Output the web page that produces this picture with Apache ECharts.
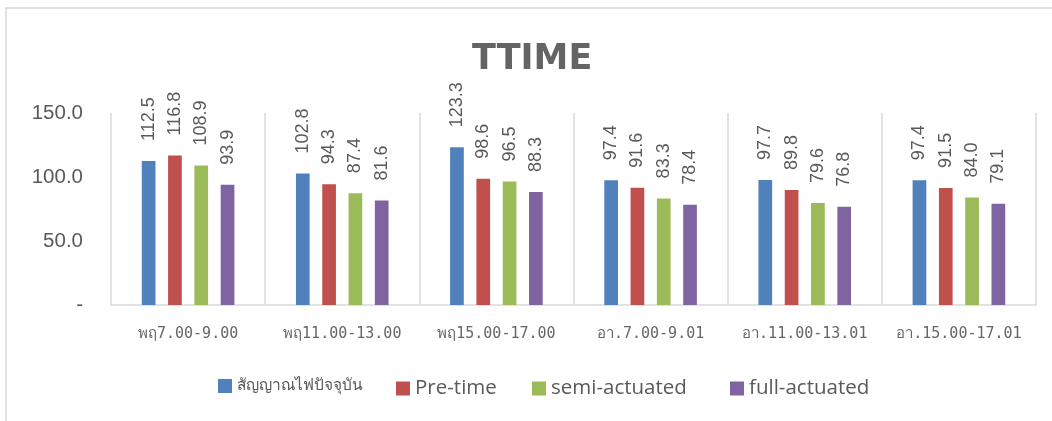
<!DOCTYPE html>
<html>
<head>
<meta charset="utf-8">
<style>
  html, body { margin: 0; padding: 0; background: #ffffff; }
  #chart { width: 1052px; height: 421px; }
</style>
<script src="https://cdn.jsdelivr.net/npm/echarts@6/dist/echarts.min.js"></script>
</head>
<body>
<div id="chart"></div>
<script>
// Time periods on the category axis
const categories = ['พฤ7.00-9.00', 'พฤ11.00-13.00', 'พฤ15.00-17.00', 'อา.7.00-9.01', 'อา.11.00-13.01', 'อา.15.00-17.01'];

// Travel time per signal control scheme
const seriesNames = ['สัญญาณไฟปัจจุบัน', 'Pre-time', 'semi-actuated', 'full-actuated'];
const currentSignal = [112.5, 102.8, 123.3, 97.4, 97.7, 97.4];
const preTime = [116.8, 94.3, 98.6, 91.6, 89.8, 91.5];
const semiActuated = [108.9, 87.4, 96.5, 83.3, 79.6, 84.0];
const fullActuated = [93.9, 81.6, 88.3, 78.4, 76.8, 79.1];

// Value axis ticks
const yTicks = [0, 50, 100, 150];

const colors = ['#4F81BD', '#C0504D', '#9BBB59', '#8064A2'];
const textColor = '#595959';
const lineColor = '#d9d9d9';
const baseFont = '"Liberation Sans", "Noto Sans", sans-serif';
const legendFont = '"Open Sans", "Liberation Sans", sans-serif';

// Legend entries sit in fixed columns along the bottom
const legendLeft = [213, 391, 527, 725];

// Thai script names get a smaller face in the legend
const isThai = s => /[\u0E00-\u0E7F]/.test(s);

const chart = echarts.init(document.getElementById('chart'), null, { renderer: 'canvas' });

function makeSeries(name, values, color) {
  return {
    name: name,
    type: 'bar',
    data: values,
    barWidth: 13.7,
    barGap: '92%',
    itemStyle: { color: color },
    label: {
      show: true,
      position: 'top',
      rotate: 90,
      align: 'left',
      verticalAlign: 'middle',
      distance: 20,
      color: textColor,
      fontSize: 18,
      fontFamily: baseFont,
      formatter: p => p.value.toFixed(1)
    },
    emphasis: { disabled: true }
  };
}

function makeLegend(name, left) {
  return {
    data: [name],
    left: left,
    top: 373,
    itemWidth: 14,
    itemHeight: 14,
    icon: 'rect',
    formatter: n => (isThai(n) ? '{th|' + n + '}' : n),
    textStyle: {
      color: textColor,
      fontSize: 20.5,
      fontFamily: legendFont,
      rich: {
        th: { fontSize: 15.5, color: textColor, fontFamily: baseFont }
      }
    }
  };
}

chart.setOption({
  backgroundColor: '#ffffff',
  animation: false,
  title: {
    text: 'TTIME',
    left: 467,
    top: 37,
    textStyle: {
      fontFamily: '"DejaVu Sans", sans-serif',
      fontWeight: 'bold',
      fontSize: 35,
      color: '#646464'
    }
  },
  graphic: [{
    type: 'rect',
    shape: { x: 6, y: 8, width: 1100, height: 500 },
    style: { fill: 'none', stroke: lineColor, lineWidth: 1.5 },
    silent: true,
    z: -10
  }],
  legend: seriesNames.map((n, i) => makeLegend(n, legendLeft[i])),
  grid: { left: 111, right: 16, top: 113, bottom: 116 },
  xAxis: {
    type: 'category',
    data: categories,
    axisLine: { show: true, lineStyle: { color: lineColor, width: 1.5 } },
    axisTick: { show: false },
    splitLine: { show: true, lineStyle: { color: lineColor, width: 1.5 } },
    axisLabel: {
      color: '#666666',
      fontSize: 15,
      fontFamily: '"DejaVu Sans Mono", monospace',
      margin: 22,
      interval: 0
    }
  },
  yAxis: {
    type: 'value',
    min: yTicks[0],
    max: yTicks[yTicks.length - 1],
    interval: yTicks[1] - yTicks[0],
    axisLine: { show: false },
    axisTick: { show: false },
    splitLine: { show: false },
    axisLabel: {
      color: textColor,
      fontSize: 20.5,
      fontFamily: baseFont,
      margin: 28,
      formatter: v => (v === 0 ? '-' : v.toFixed(1))
    }
  },
  series: [
    makeSeries(seriesNames[0], currentSignal, colors[0]),
    makeSeries(seriesNames[1], preTime, colors[1]),
    makeSeries(seriesNames[2], semiActuated, colors[2]),
    makeSeries(seriesNames[3], fullActuated, colors[3])
  ]
});
</script>
</body>
</html>
